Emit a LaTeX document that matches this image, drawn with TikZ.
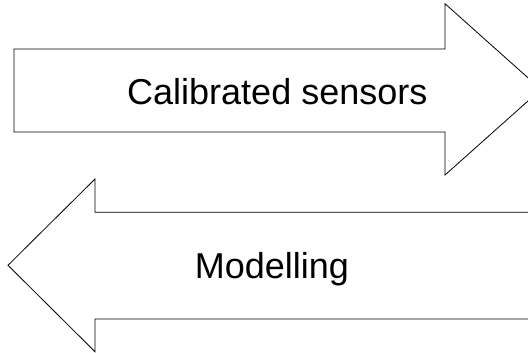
\documentclass[tikz,border=0pt]{standalone}
\usepackage{fontspec}
\setmainfont{Liberation Sans}
\begin{document}
\begin{tikzpicture}[x=1pt, y=-1pt,
  bigarrow/.style={draw=black, line width=0.8pt, line join=miter, fill=white},
  arrowlabel/.style={anchor=base, inner sep=0pt, font=\fontsize{36}{40}\selectfont}]
  \useasboundingbox (0,0) rectangle (528,353);
  \clip (0,0) rectangle (528,353);
  % right-pointing arrow
  \draw[bigarrow] (14,49) -- (445,49) -- (445,3.7) -- (541,89.4)
    -- (445,175) -- (445,132) -- (14,132) -- cycle;
  \node[arrowlabel] (calib) at (277.3,104.3) {Calibrated sensors};
  % left-pointing arrow
  \draw[bigarrow] (560,212.3) -- (95,212.3) -- (95,179) -- (8,265.3)
    -- (95,351.7) -- (95,319) -- (560,319);
  \node[arrowlabel] (model) at (272,278.3) {Modelling};
\end{tikzpicture}
\end{document}
